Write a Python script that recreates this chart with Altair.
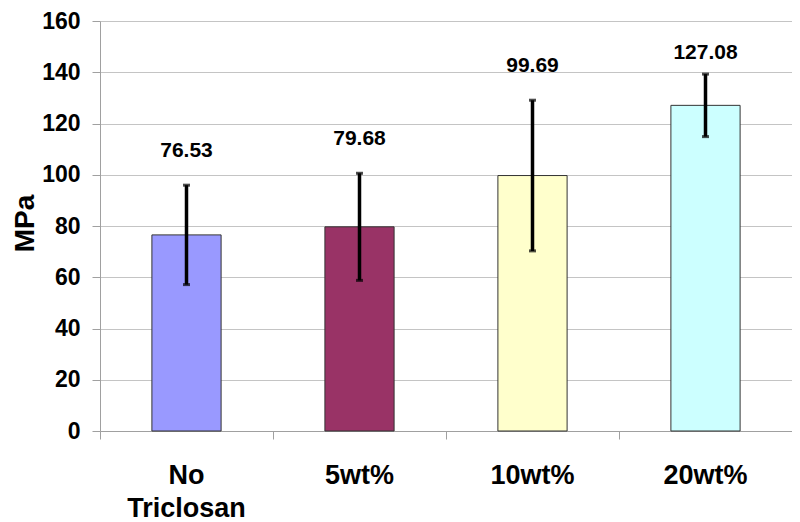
import altair as alt
import pandas as pd

categories = ["No Triclosan", "5wt%", "10wt%", "20wt%"]
means = [76.53, 79.68, 99.69, 127.08]
errors = [19.4, 20.9, 29.4, 12.2]
colors = ["#9999FF", "#993366", "#FFFFCC", "#CCFFFF"]
y_ticks = [0, 20, 40, 60, 80, 100, 120, 140, 160]

df = pd.DataFrame({"cat": categories, "mean": means, "err": errors})

FONT = "Liberation Sans"
W, H = 692, 410
GRID = "#C4C4C4"
AX = "#A0A0A0"

x = alt.X(
    "cat:N",
    sort=categories,
    scale=alt.Scale(paddingInner=0, paddingOuter=0),
    axis=alt.Axis(
        title=None, labelAngle=0, bandPosition=0,
        labelExpr="split(datum.label, ' ')", labelFont=FONT, labelFontSize=27,
        labelFontWeight="bold", labelColor="black", labelLineHeight=33,
        labelBaseline="top", labelPadding=23, tickSize=8, tickColor=AX,
        tickWidth=1, domainColor=AX, domainWidth=1, grid=False, labelAlign="center",
    ),
)

y_axis = alt.Axis(
    title="MPa", values=y_ticks, labelFont=FONT, labelFontSize=23,
    labelFontWeight="bold", labelColor="black", labelPadding=12,
    tickSize=8, tickColor=AX, tickWidth=1, domainColor=AX, domainWidth=1,
    gridColor=GRID, gridWidth=1.2, titleFont=FONT, titleFontSize=28,
    titleFontWeight="bold", titleColor="black", titleAngle=270,
    titleX=-67, titleY=H / 2 - 3, titleAlign="center", titleBaseline="alphabetic",
)
yscale = alt.Scale(domain=[0, 160], nice=False)

base = alt.Chart(df).transform_calculate(
    lo="datum.mean - datum.err",
    hi="datum.mean + datum.err",
    ly="min(datum.mean + datum.err + 13.5, 147.5)",
)

bars = base.mark_bar(width=alt.RelativeBandSize(0.4), stroke="#333333", strokeWidth=1).encode(
    x=x,
    y=alt.Y("mean:Q", scale=yscale, axis=y_axis),
    fill=alt.Fill("cat:N", sort=categories, scale=alt.Scale(domain=categories, range=colors), legend=None),
)

rules = base.mark_rule(color="black", strokeWidth=3.5).encode(
    x=alt.X("cat:N", sort=categories),
    y=alt.Y("lo:Q", scale=yscale),
    y2="hi:Q",
)

cap_lo = base.mark_tick(color="black", size=7, thickness=3).encode(
    x=alt.X("cat:N", sort=categories),
    y=alt.Y("lo:Q", scale=yscale),
)
cap_hi = base.mark_tick(color="black", size=7, thickness=3).encode(
    x=alt.X("cat:N", sort=categories),
    y=alt.Y("hi:Q", scale=yscale),
)

labels = base.mark_text(font=FONT, fontSize=21, fontWeight="bold", color="black", baseline="middle").encode(
    x=alt.X("cat:N", sort=categories),
    y=alt.Y("ly:Q", scale=yscale),
    text=alt.Text("mean:Q", format=".2f"),
)

chart = alt.layer(bars, rules, cap_lo, cap_hi, labels).properties(
    width=W, height=H,
    autosize=alt.AutoSizeParams(type="none"),
    padding={"left": 92, "top": 13, "right": 0, "bottom": 91},
).configure_view(stroke=None)

chart.save("out.html", embed_options={"renderer": "svg", "actions": False})
